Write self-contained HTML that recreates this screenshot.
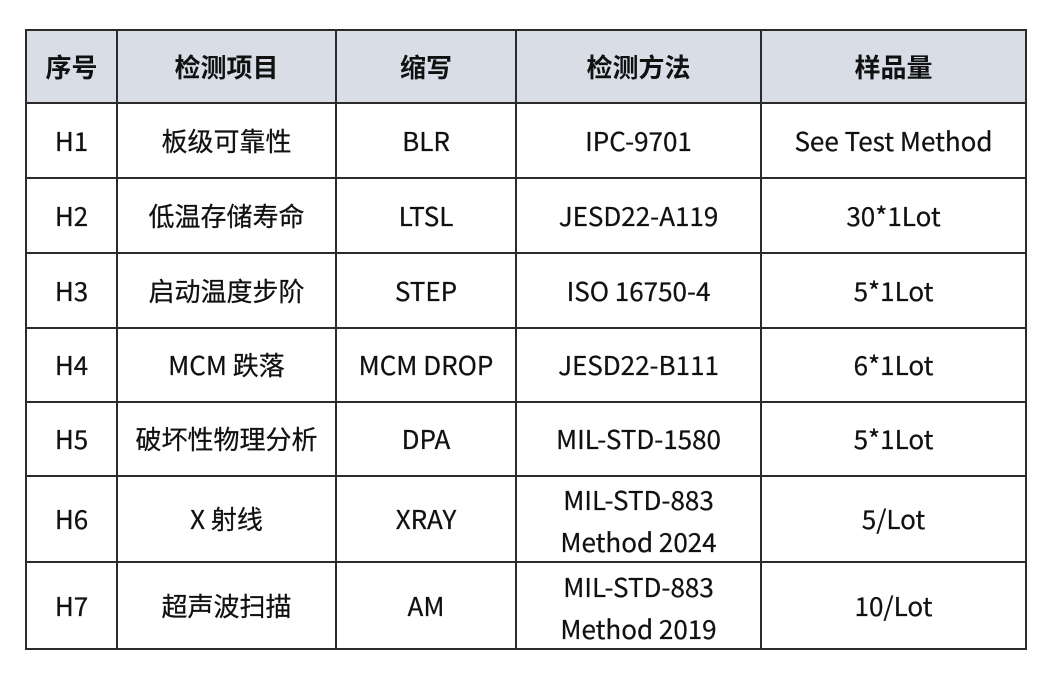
<!DOCTYPE html>
<html><head><meta charset="utf-8"><style>
html,body{margin:0;padding:0;background:#fff;}
body{width:1057px;height:676px;position:relative;overflow:hidden;font-family:"Liberation Sans","Noto Sans CJK SC",sans-serif;}
.c{position:absolute;display:flex;align-items:center;justify-content:center;text-align:center;font-family:"Noto Sans CJK SC","Liberation Sans",sans-serif;font-size:26px;color:#111;line-height:42px;-webkit-text-stroke:0.25px #111;white-space:nowrap;}
.h{font-weight:bold;-webkit-text-stroke:0;}
.hl{position:absolute;left:25px;width:1002px;height:2px;background:#2b2b2b;}
.vl{position:absolute;top:29px;height:621px;width:2px;background:#2b2b2b;}
.bg{position:absolute;left:26px;top:30px;width:1000px;height:73px;background:#d8dde6;}
</style></head><body>
<div class="bg"></div>
<div class="hl" style="top:29px"></div>
<div class="hl" style="top:102px"></div>
<div class="hl" style="top:177px"></div>
<div class="hl" style="top:252px"></div>
<div class="hl" style="top:327px"></div>
<div class="hl" style="top:401px"></div>
<div class="hl" style="top:475px"></div>
<div class="hl" style="top:561px"></div>
<div class="hl" style="top:648px"></div>
<div class="vl" style="left:25px"></div>
<div class="vl" style="left:116px"></div>
<div class="vl" style="left:335px"></div>
<div class="vl" style="left:515px"></div>
<div class="vl" style="left:760px"></div>
<div class="vl" style="left:1025px"></div>

<div class="c h" style="left:27px;width:89px;top:31px;height:71px">序号</div>
<div class="c h" style="left:118px;width:217px;top:31px;height:71px">检测项目</div>
<div class="c h" style="left:337px;width:178px;top:31px;height:71px">缩写</div>
<div class="c h" style="left:517px;width:243px;top:31px;height:71px">检测方法</div>
<div class="c h" style="left:762px;width:263px;top:31px;height:71px">样品量</div>

<div class="c" style="left:27px;width:89px;top:104px;height:73px">H1</div>
<div class="c" style="left:118px;width:217px;top:104px;height:73px">板级可靠性</div>
<div class="c" style="left:337px;width:178px;top:104px;height:73px">BLR</div>
<div class="c" style="left:517px;width:243px;top:104px;height:73px">IPC-9701</div>
<div class="c" style="left:762px;width:263px;top:104px;height:73px">See Test Method</div>

<div class="c" style="left:27px;width:89px;top:179px;height:73px">H2</div>
<div class="c" style="left:118px;width:217px;top:179px;height:73px">低温存储寿命</div>
<div class="c" style="left:337px;width:178px;top:179px;height:73px">LTSL</div>
<div class="c" style="left:517px;width:243px;top:179px;height:73px">JESD22-A119</div>
<div class="c" style="left:762px;width:263px;top:179px;height:73px">30*1Lot</div>

<div class="c" style="left:27px;width:89px;top:254px;height:73px">H3</div>
<div class="c" style="left:118px;width:217px;top:254px;height:73px">启动温度步阶</div>
<div class="c" style="left:337px;width:178px;top:254px;height:73px">STEP</div>
<div class="c" style="left:517px;width:243px;top:254px;height:73px">ISO 16750-4</div>
<div class="c" style="left:762px;width:263px;top:254px;height:73px">5*1Lot</div>

<div class="c" style="left:27px;width:89px;top:329px;height:72px">H4</div>
<div class="c" style="left:118px;width:217px;top:329px;height:72px">MCM 跌落</div>
<div class="c" style="left:337px;width:178px;top:329px;height:72px">MCM DROP</div>
<div class="c" style="left:517px;width:243px;top:329px;height:72px">JESD22-B111</div>
<div class="c" style="left:762px;width:263px;top:329px;height:72px">6*1Lot</div>

<div class="c" style="left:27px;width:89px;top:403px;height:72px">H5</div>
<div class="c" style="left:118px;width:217px;top:403px;height:72px">破坏性物理分析</div>
<div class="c" style="left:337px;width:178px;top:403px;height:72px">DPA</div>
<div class="c" style="left:517px;width:243px;top:403px;height:72px">MIL-STD-1580</div>
<div class="c" style="left:762px;width:263px;top:403px;height:72px">5*1Lot</div>

<div class="c" style="left:27px;width:89px;top:477px;height:84px">H6</div>
<div class="c" style="left:118px;width:217px;top:477px;height:84px">X 射线</div>
<div class="c" style="left:337px;width:178px;top:477px;height:84px">XRAY</div>
<div class="c" style="left:517px;width:243px;top:479px;height:84px">MIL-STD-883<br>Method 2024</div>
<div class="c" style="left:762px;width:263px;top:477px;height:84px">5/Lot</div>

<div class="c" style="left:27px;width:89px;top:563px;height:85px">H7</div>
<div class="c" style="left:118px;width:217px;top:563px;height:85px">超声波扫描</div>
<div class="c" style="left:337px;width:178px;top:563px;height:85px">AM</div>
<div class="c" style="left:517px;width:243px;top:565px;height:85px">MIL-STD-883<br>Method 2019</div>
<div class="c" style="left:762px;width:263px;top:563px;height:85px">10/Lot</div>
</body></html>
